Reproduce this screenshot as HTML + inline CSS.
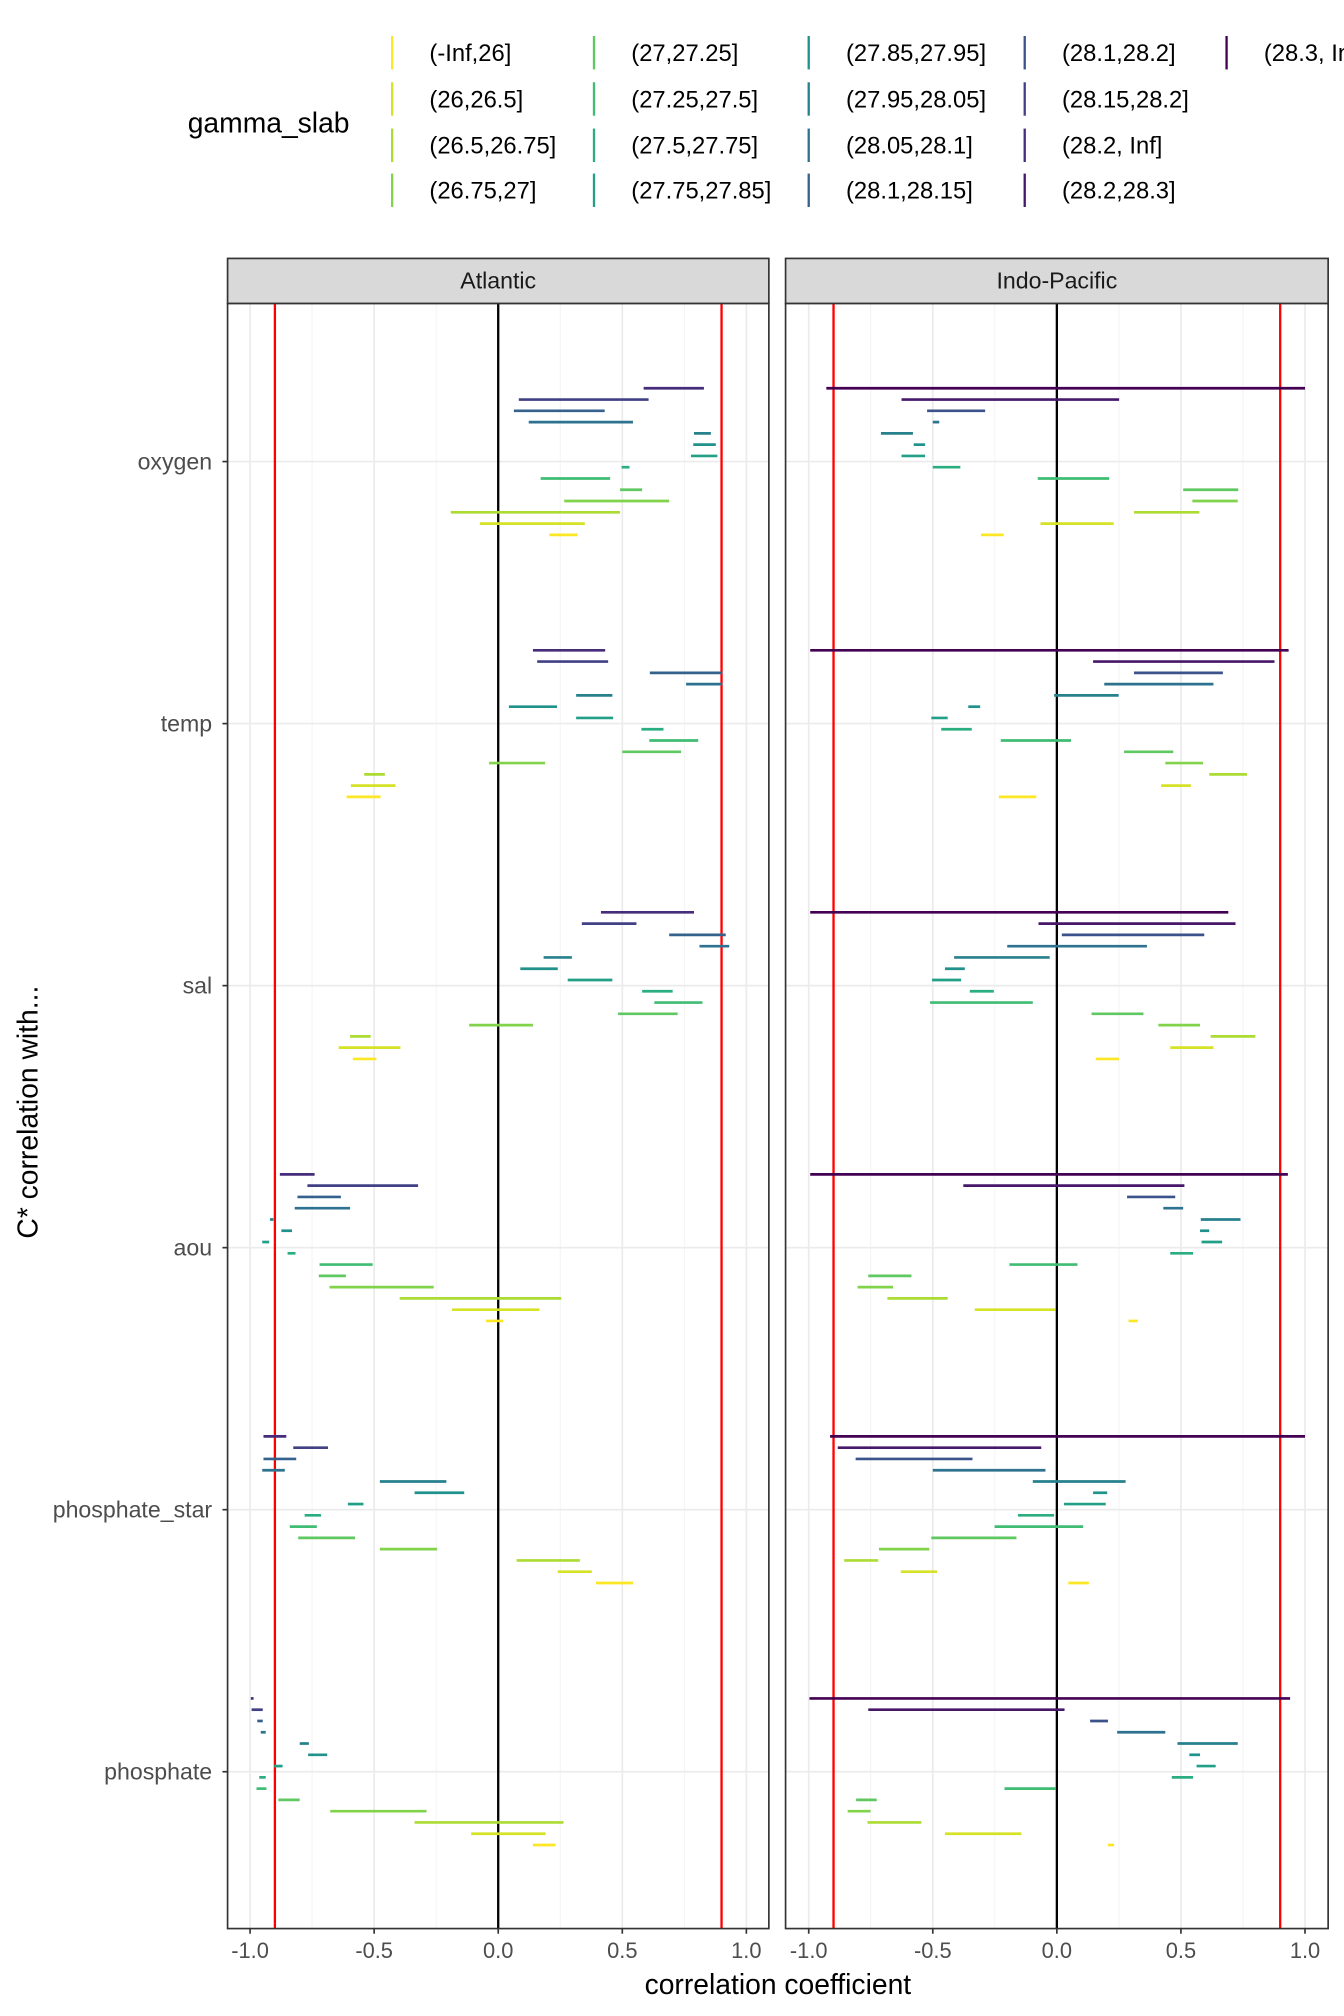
<!DOCTYPE html>
<html><head><meta charset="utf-8">
<style>
html,body{margin:0;padding:0;background:#fff;}
svg{display:block;font-family:"Liberation Sans",sans-serif;}
</style></head>
<body>
<svg id="chart" width="1344" height="2016" viewBox="0 0 1045.33 1568" xmlns="http://www.w3.org/2000/svg"></svg>
<script>
// ---- data ----
const slabLabels = ["(-Inf,26]","(26,26.5]","(26.5,26.75]","(26.75,27]","(27,27.25]","(27.25,27.5]","(27.5,27.75]","(27.75,27.85]","(27.85,27.95]","(27.95,28.05]","(28.05,28.1]","(28.1,28.15]","(28.1,28.2]","(28.15,28.2]","(28.2, Inf]","(28.2,28.3]","(28.3, Inf]"];
const variables = ["oxygen","temp","sal","aou","phosphate_star","phosphate"];
const basins = ["Atlantic","Indo-Pacific"];
const xTicks = [-1,-0.5,0,0.5,1];
const xTickLabels = ["-1.0","-0.5","0.0","0.5","1.0"];
const thresholds = [-0.9,0.9];
// slabs present per basin, listed top -> bottom
const atlSlabs = [14,13,11,10,9,8,7,6,5,4,3,2,1,0];
const indSlabs = [16,15,12,10,9,8,7,6,5,4,3,2,1,0];
// [lo, hi] per slab row (top -> bottom)
const atlOxygen = [[0.586,0.829],[0.083,0.606],[0.063,0.429],[0.123,0.543],[0.789,0.857],[0.786,0.877],[0.777,0.883],[0.497,0.529],[0.171,0.451],[0.491,0.58],[0.266,0.689],[-0.191,0.491],[-0.074,0.349],[0.206,0.32]];
const indOxygen = [[-0.929,1.0],[-0.626,0.251],[-0.523,-0.289],[-0.5,-0.474],[-0.709,-0.58],[-0.577,-0.531],[-0.626,-0.531],[-0.5,-0.389],[-0.077,0.211],[0.509,0.731],[0.546,0.729],[0.311,0.574],[-0.066,0.229],[-0.306,-0.214]];
const atlTemp = [[0.14,0.431],[0.157,0.443],[0.611,0.903],[0.757,0.903],[0.314,0.46],[0.043,0.237],[0.314,0.463],[0.577,0.666],[0.609,0.806],[0.5,0.737],[-0.037,0.189],[-0.54,-0.457],[-0.594,-0.414],[-0.611,-0.474]];
const indTemp = [[-0.994,0.934],[0.146,0.877],[0.311,0.669],[0.191,0.631],[-0.011,0.249],[-0.357,-0.309],[-0.506,-0.44],[-0.466,-0.343],[-0.226,0.057],[0.271,0.469],[0.437,0.589],[0.614,0.766],[0.42,0.54],[-0.234,-0.083]];
const atlSal = [[0.414,0.789],[0.337,0.557],[0.689,0.917],[0.811,0.931],[0.183,0.297],[0.089,0.24],[0.28,0.46],[0.58,0.703],[0.629,0.823],[0.483,0.723],[-0.117,0.14],[-0.597,-0.514],[-0.643,-0.394],[-0.586,-0.491]];
const indSal = [[-0.994,0.691],[-0.074,0.72],[0.02,0.594],[-0.2,0.363],[-0.414,-0.029],[-0.451,-0.371],[-0.503,-0.386],[-0.351,-0.254],[-0.511,-0.097],[0.14,0.349],[0.409,0.577],[0.62,0.8],[0.457,0.631],[0.157,0.251]];
const atlAou = [[-0.88,-0.74],[-0.769,-0.323],[-0.809,-0.634],[-0.82,-0.597],[-0.92,-0.906],[-0.874,-0.831],[-0.951,-0.923],[-0.849,-0.817],[-0.72,-0.506],[-0.723,-0.614],[-0.68,-0.26],[-0.397,0.254],[-0.186,0.166],[-0.049,0.02]];
const indAou = [[-0.994,0.931],[-0.377,0.514],[0.283,0.477],[0.429,0.509],[0.58,0.74],[0.577,0.614],[0.583,0.666],[0.457,0.549],[-0.191,0.083],[-0.76,-0.586],[-0.803,-0.66],[-0.683,-0.44],[-0.331,-0.006],[0.289,0.326]];
const atlPstar = [[-0.946,-0.854],[-0.826,-0.686],[-0.946,-0.814],[-0.951,-0.86],[-0.477,-0.209],[-0.337,-0.137],[-0.606,-0.543],[-0.78,-0.714],[-0.84,-0.731],[-0.806,-0.577],[-0.477,-0.246],[0.074,0.329],[0.24,0.377],[0.394,0.543]];
const indPstar = [[-0.914,1.0],[-0.883,-0.063],[-0.811,-0.34],[-0.5,-0.046],[-0.097,0.277],[0.146,0.203],[0.029,0.197],[-0.157,-0.011],[-0.251,0.106],[-0.506,-0.163],[-0.717,-0.514],[-0.857,-0.72],[-0.629,-0.483],[0.046,0.129]];
const atlPhos = [[-0.997,-0.986],[-0.994,-0.949],[-0.971,-0.949],[-0.957,-0.937],[-0.8,-0.763],[-0.766,-0.689],[-0.903,-0.869],[-0.963,-0.937],[-0.974,-0.934],[-0.886,-0.8],[-0.677,-0.289],[-0.337,0.263],[-0.109,0.191],[0.14,0.231]];
const indPhos = [[-0.997,0.94],[-0.76,0.031],[0.134,0.206],[0.243,0.437],[0.486,0.729],[0.534,0.577],[0.563,0.64],[0.463,0.549],[-0.211,-0.006],[-0.809,-0.726],[-0.843,-0.751],[-0.763,-0.546],[-0.451,-0.143],[0.206,0.231]];

const atlData = [atlOxygen,atlTemp,atlSal,atlAou,atlPstar,atlPhos];
const indData = [indOxygen,indTemp,indSal,indAou,indPstar,indPhos];

// ---- layout ----
const NS="http://www.w3.org/2000/svg";
const svg=document.getElementById('chart');
function mk(tag,attrs,parent){const e=document.createElementNS(NS,tag);for(const k in attrs)e.setAttribute(k,attrs[k]);(parent||svg).appendChild(e);return e;}
const panels=[{x0:177,x1:598,zero:387.5,slabs:atlSlabs,data:atlData},{x0:611,x1:1033,zero:822,slabs:indSlabs,data:indData}];
const unit=193;
const plotTop=236, plotBot=1500, stripTop=201;
const cat0=359, catStep=203.8;
const rowStep=8.77;
function yCat(i){return cat0+i*catStep;}
const vstops=["#440154","#482475","#414487","#355F8D","#2A788E","#21918C","#22A884","#44BF70","#7AD151","#BDDF26","#FDE725"];
function hex(c){return [1,3,5].map(i=>parseInt(c.substr(i,2),16));}
function viridis(t){t=Math.max(0,Math.min(1,t));const p=t*10;const i=Math.min(9,Math.floor(p));const f=p-i;const a=hex(vstops[i]),b=hex(vstops[i+1]);return "rgb("+a.map((v,k)=>Math.round(v+(b[k]-v)*f)).join(",")+")";}
function slabColor(idx){return viridis(1-idx/16);}

panels.forEach((p,pi)=>{
  const sx=v=>p.zero+v*unit;
  const g=mk('g',{});
  
  
  const bg=mk('rect',{x:p.x0,y:plotTop,width:p.x1-p.x0,height:plotBot-plotTop,fill:'#fff'},g);
  
  
  [-0.75,-0.25,0.25,0.75].forEach(v=>{const l=mk('line',{x1:sx(v),x2:sx(v),y1:plotTop,y2:plotBot,stroke:'#F2F2F2','stroke-width':0.7},g);
    
    });
  xTicks.forEach(v=>{const l=mk('line',{x1:sx(v),x2:sx(v),y1:plotTop,y2:plotBot,stroke:'#EBEBEB','stroke-width':1.3},g);
    
    });
  variables.forEach((v,i)=>{const l=mk('line',{x1:p.x0,x2:p.x1,y1:yCat(i),y2:yCat(i),stroke:'#EBEBEB','stroke-width':1.3},g);
    
    });
  thresholds.forEach(t=>{const l=mk('line',{x1:sx(t),x2:sx(t),y1:plotTop,y2:plotBot,stroke:'#FF0000','stroke-width':1.8},g);
    
    });
  const z=mk('line',{x1:sx(0),x2:sx(0),y1:plotTop,y2:plotBot,stroke:'#000','stroke-width':1.8},g);
  
  
  p.data.forEach((rows,vi)=>{
    const n=p.slabs.length;
    rows.forEach((r,ri)=>{
      const y=yCat(vi)-(n-1)/2*rowStep+ri*rowStep;
      const s=mk('line',{x1:sx(r[0]),x2:sx(r[1]),y1:y,y2:y,stroke:slabColor(p.slabs[ri]),'stroke-width':2.1},g);
      
      
    });
  });
  const border=mk('rect',{x:p.x0,y:plotTop,width:p.x1-p.x0,height:plotBot-plotTop,fill:'none',stroke:'#333','stroke-width':1.3},g);
  
  
  const strip=mk('rect',{x:p.x0,y:stripTop,width:p.x1-p.x0,height:plotTop-stripTop,fill:'#D9D9D9',stroke:'#333','stroke-width':1.3},g);
  
  
  const st=mk('text',{x:(p.x0+p.x1)/2,y:224.5,'text-anchor':'middle','font-size':18,fill:'#1A1A1A'},g);
  st.textContent=basins[pi];
  
  
  xTicks.forEach((v,k)=>{
    const t=mk('line',{x1:sx(v),x2:sx(v),y1:plotBot,y2:plotBot+4,stroke:'#333','stroke-width':1.3},g);
    
    
    const tl=mk('text',{x:sx(v),y:plotBot+23,'text-anchor':'middle','font-size':17,fill:'#4D4D4D'},g);
    tl.textContent=xTickLabels[k];
    
    
  });
});
variables.forEach((v,i)=>{
  const t=mk('line',{x1:173,x2:177,y1:yCat(i),y2:yCat(i),stroke:'#333','stroke-width':1.3});
  
  
  const tl=mk('text',{x:165,y:yCat(i)+6,'text-anchor':'end','font-size':18,fill:'#4D4D4D'});
  tl.textContent=v;
  
  
});
const yt=mk('text',{x:0,y:0,transform:'translate(29,865) rotate(-90)','text-anchor':'middle','font-size':22,fill:'#000'});
yt.textContent='C* correlation with...';


const xt=mk('text',{x:605,y:1551,'text-anchor':'middle','font-size':22,fill:'#000'});
xt.textContent='correlation coefficient';


const lg=mk('g',{});


const lt=mk('text',{x:146,y:103,'font-size':22,fill:'#000'},lg);
lt.textContent='gamma_slab';


const colX=[305,462,629,797,954];
const rowY=[41,77,113,148];
slabLabels.forEach((lab,i)=>{
  const c=Math.floor(i/4), r=i%4;
  const k=mk('line',{x1:colX[c],x2:colX[c],y1:rowY[r]-13,y2:rowY[r]+13,stroke:slabColor(i),'stroke-width':1.8},lg);
  
  
  const t=mk('text',{x:colX[c]+29,y:rowY[r]+6.5,'font-size':18.5,fill:'#000'},lg);
  t.textContent=lab;
  
  
});
</script>
</body></html>
